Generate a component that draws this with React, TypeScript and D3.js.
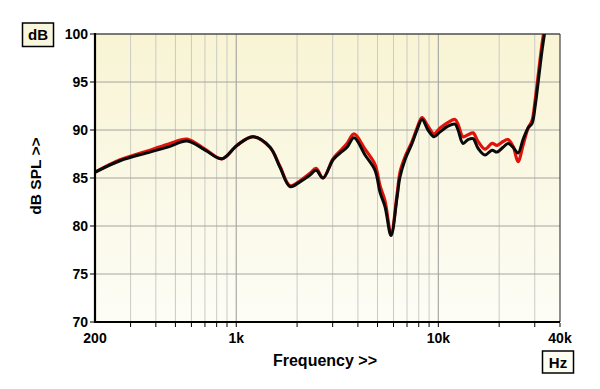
import React from "react";
import * as d3 from "d3";

const freqs = [200, 266, 374, 470, 571, 701, 850, 1009, 1210, 1469, 1647, 1845, 2067, 2318, 2482, 2689, 3012, 3262, 3533, 3826, 4339, 4862, 5146, 5449, 5835, 6249, 6460, 6843, 7410, 7846, 8306, 8892, 9524, 10198, 11170, 12095, 12514, 13252, 14030, 14850, 15720, 17028, 18443, 19521, 20900, 22121, 23440, 24798, 26250, 27800, 29100, 30100, 31160, 32610, 33740];

const blackSeries = [85.6, 86.8, 87.7, 88.3, 88.85, 87.9, 87.0, 88.4, 89.3, 88.2, 86.1, 84.1, 84.6, 85.3, 85.8, 85.0, 86.9, 87.6, 88.2, 89.2, 87.4, 85.8, 83.5, 82.0, 79.0, 83.0, 85.1, 86.9, 88.6, 90.0, 91.1, 90.0, 89.3, 89.8, 90.4, 90.6, 90.0, 88.6, 89.0, 89.1, 88.1, 87.4, 87.9, 87.7, 88.2, 88.6, 88.2, 87.6, 89.0, 90.2, 90.7, 92.4, 94.9, 98.3, 100.4];

const redSeries = [85.6, 86.9, 87.9, 88.6, 89.05, 88.0, 87.0, 88.4, 89.3, 88.2, 86.2, 84.2, 84.7, 85.5, 86.0, 85.0, 87.0, 87.8, 88.6, 89.6, 88.0, 86.4, 84.2, 82.6, 79.2, 83.3, 85.6, 87.2, 88.8, 90.2, 91.3, 90.4, 89.6, 90.2, 90.8, 91.1, 90.6, 89.3, 89.5, 89.7, 88.8, 88.0, 88.6, 88.4, 88.8, 89.0, 88.3, 86.7, 88.4, 90.2, 91.0, 93.0, 95.6, 99.0, 101.0];

const yTicks = [70, 75, 80, 85, 90, 95, 100];
const xTickValues = [200, 1000, 10000, 40000];
const xTickLabels = ["200", "1k", "10k", "40k"];
const minorGrid = [300, 400, 500, 600, 700, 800, 900, 2000, 3000, 4000, 5000, 6000, 7000, 8000, 9000, 20000, 30000];
const majorGrid = [1000, 10000];

export default function App() {
  const W = 600, H = 389;
  const L = 95, R = 560, T = 34, B = 322;
  const x = d3.scaleLog().domain([200, 40000]).range([L, R]);
  const y = d3.scaleLinear().domain([70, 100]).range([B, T]);
  const line = d3
    .line<number>()
    .x((_, i) => x(freqs[i]))
    .y((d) => y(d))
    .curve(d3.curveCatmullRom.alpha(0.5));
  const font = "Arial, 'Liberation Sans', sans-serif";

  return (
    <svg width={W} height={H} style={{ position: "absolute", left: 0, top: 0, background: "#fff" }}>
      <defs>
        <linearGradient id="bg" x1="0" y1="0" x2="0" y2="1">
          <stop offset="0" stopColor="#f8f4d4" />
          <stop offset="0.6" stopColor="#fbf9e8" />
          <stop offset="1" stopColor="#fdfdf7" />
        </linearGradient>
        <clipPath id="clip">
          <rect x={L} y={T} width={R - L} height={B - T} />
        </clipPath>
      </defs>
      <rect x={L} y={T} width={R - L} height={B - T} fill="url(#bg)" />
      {minorGrid.map((f) => (
        <line key={"m" + f} x1={x(f)} x2={x(f)} y1={T} y2={B} stroke="#cbcbc4" strokeWidth={1} />
      ))}
      {majorGrid.map((f) => (
        <line key={"M" + f} x1={x(f)} x2={x(f)} y1={T} y2={B} stroke="#a9a9a4" strokeWidth={1.2} />
      ))}
      {yTicks.map((v) => (
        <line key={"h" + v} x1={L} x2={R} y1={y(v)} y2={y(v)} stroke="#a4a4a0" strokeWidth={1} />
      ))}
      <g clipPath="url(#clip)" fill="none" strokeLinejoin="round" strokeLinecap="round">
        <path d={line(redSeries) || ""} stroke="#e0120c" strokeWidth={3.2} />
        <path d={line(blackSeries) || ""} stroke="#0a0a0a" strokeWidth={3} />
      </g>
      <line x1={L} x2={R} y1={T} y2={T} stroke="#222" strokeWidth={1.2} />
      <line x1={R} x2={R} y1={T} y2={B} stroke="#444" strokeWidth={1.2} />
      <line x1={L} x2={L} y1={T - 1} y2={B + 1} stroke="#000" strokeWidth={2.2} />
      <line x1={L - 1} x2={R} y1={B} y2={B} stroke="#000" strokeWidth={2.2} />
      {yTicks.map((v) => (
        <g key={"yt" + v}>
          <line x1={L - 5} x2={L - 1} y1={y(v)} y2={y(v)} stroke="#000" strokeWidth={1} />
          <text x={L - 7} y={y(v) + 5} textAnchor="end" fontFamily={font} fontWeight="bold" fontSize={14} fill="#000">
            {v}
          </text>
        </g>
      ))}
      {[...minorGrid, ...majorGrid, 40000].map((f) => (
        <line key={"xt" + f} x1={x(f)} x2={x(f)} y1={B + 1} y2={B + 5} stroke="#000" strokeWidth={1} />
      ))}
      {xTickValues.map((f, i) => (
        <text key={"xl" + f} x={x(f)} y={343} textAnchor="middle" fontFamily={font} fontWeight="bold" fontSize={14} fill="#000">
          {xTickLabels[i]}
        </text>
      ))}
      <text x={325} y={366} textAnchor="middle" fontFamily={font} fontWeight="bold" fontSize={16} fill="#000">
        Frequency &gt;&gt;
      </text>
      <text
        transform="translate(41,176) rotate(-90)"
        textAnchor="middle"
        fontFamily={font}
        fontWeight="bold"
        fontSize={15.5}
        fill="#000"
      >
        dB SPL &gt;&gt;
      </text>
      <rect x={22.5} y={23} width={31} height={23.5} fill="#f8f6dc" stroke="#000" strokeWidth={1.5} />
      <text x={38} y={40} textAnchor="middle" fontFamily={font} fontWeight="bold" fontSize={15} fill="#000">
        dB
      </text>
      <rect x={542.5} y={351} width={31} height={22} fill="#fdfdf2" stroke="#000" strokeWidth={1.5} />
      <text x={558} y={367.5} textAnchor="middle" fontFamily={font} fontWeight="bold" fontSize={15} fill="#000">
        Hz
      </text>
    </svg>
  );
}
